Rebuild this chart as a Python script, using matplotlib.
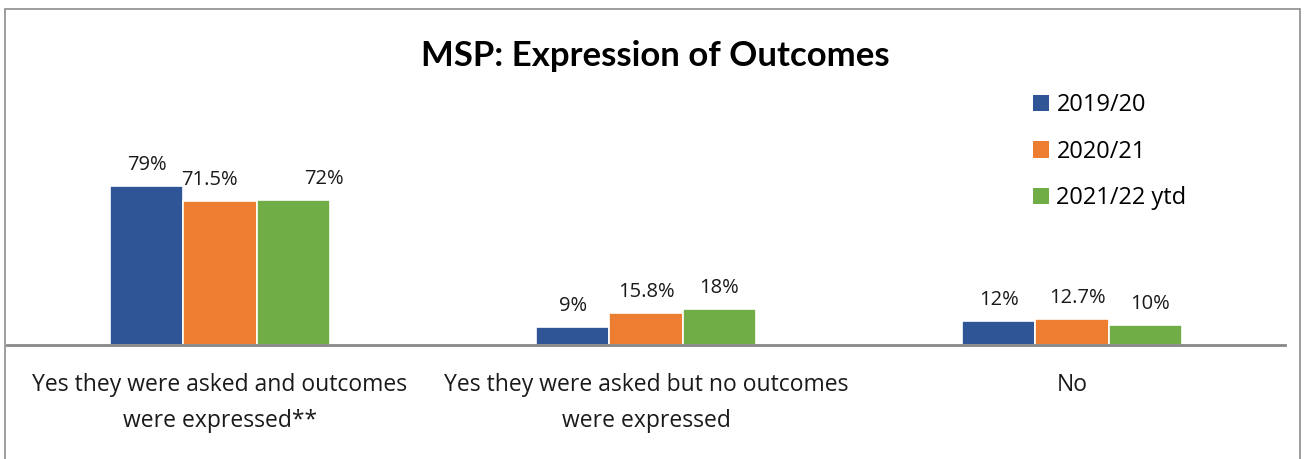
"""Recreate the MSP expression of outcomes bar chart."""

import matplotlib

matplotlib.use("Agg")

import matplotlib.pyplot as plt
import numpy as np
from matplotlib.patches import Rectangle


CATEGORIES = [
    "Yes they were asked and outcomes\nwere expressed**",
    "Yes they were asked but no outcomes\nwere expressed",
    "No",
]
SERIES_NAMES = ["2019/20", "2020/21", "2021/22 ytd"]
VALUES_2019 = [79.0, 9.0, 12.0]
VALUES_2020 = [71.5, 15.8, 12.7]
VALUES_2021 = [72.0, 18.0, 10.0]
LABELS_2019 = ["79%", "9%", "12%"]
LABELS_2020 = ["71.5%", "15.8%", "12.7%"]
LABELS_2021 = ["72%", "18%", "10%"]

COLORS = ["#2F5597", "#ED7D31", "#70AD47"]
# small manual nudges (points) seen on a few labels in the original
LABEL_NUDGES = [
    [0, 0, 0],
    [-7.5, 0, 4],
    [22, 0, 3.5],
]

plt.rcParams["font.family"] = ["Open Sans", "DejaVu Sans"]

W, H = 1306, 459
figure = plt.figure(figsize=(W / 100, H / 100), dpi=100)

baseline_px = 345
top_px = 114
left_px, right_px = 7, 1285
axis = figure.add_axes(
    [left_px / W, (H - baseline_px) / H, (right_px - left_px) / W,
     (baseline_px - top_px) / H]
)

x = np.arange(len(CATEGORIES))
bar_width = 0.172
all_values = [VALUES_2019, VALUES_2020, VALUES_2021]
all_labels = [LABELS_2019, LABELS_2020, LABELS_2021]

for index, (name, values, labels, color) in enumerate(
    zip(SERIES_NAMES, all_values, all_labels, COLORS)
):
    positions = x + (index - 1) * bar_width
    bars = axis.bar(
        positions,
        values,
        width=bar_width,
        color=color,
        edgecolor="white",
        linewidth=1.2,
        label=name,
        zorder=2,
    )
    for bar_index, (bar, text) in enumerate(zip(bars, labels)):
        axis.annotate(
            text,
            xy=(bar.get_x() + bar.get_width() / 2, bar.get_height()),
            xytext=(LABEL_NUDGES[index][bar_index], 8),
            textcoords="offset points",
            ha="center",
            va="bottom",
            fontsize=14.5,
            color="#1a1a1a",
            annotation_clip=False,
        )

axis.set_xlim(-0.5, len(CATEGORIES) - 0.5)
axis.set_ylim(0, (baseline_px - top_px) / 2.01)
axis.set_xticks(x)
axis.set_xticklabels(CATEGORIES, fontsize=16.5, color="#1a1a1a", linespacing=1.65)
axis.tick_params(axis="x", length=0, pad=20.5)
axis.set_yticks([])
for side in ["top", "right", "left"]:
    axis.spines[side].set_visible(False)
axis.spines["bottom"].set_color("#878787")
axis.spines["bottom"].set_linewidth(2)
axis.patch.set_alpha(0)

figure.text(
    655 / W,
    1 - 56 / H,
    "MSP: Expression of Outcomes",
    ha="center",
    va="center",
    fontsize=25,
    fontweight="bold",
    family=["Lato", "DejaVu Sans"],
    color="black",
)

legend = figure.legend(
    loc="upper left",
    bbox_to_anchor=(1012 / W, 1 - 72 / H),
    frameon=False,
    fontsize=17,
    handlelength=0.68,
    handleheight=0.68,
    handletextpad=0.3,
    labelspacing=0.95,
)
for handle in legend.legend_handles:
    handle.set_edgecolor("none")

border = Rectangle(
    (5 / W, -0.05),
    (1300 - 5) / W,
    1.05 - 9 / H,
    transform=figure.transFigure,
    fill=False,
    edgecolor="#8c8c8c",
    linewidth=1.2,
)
figure.patches.append(border)

figure.savefig("out.png", dpi=100)
plt.close(figure)
